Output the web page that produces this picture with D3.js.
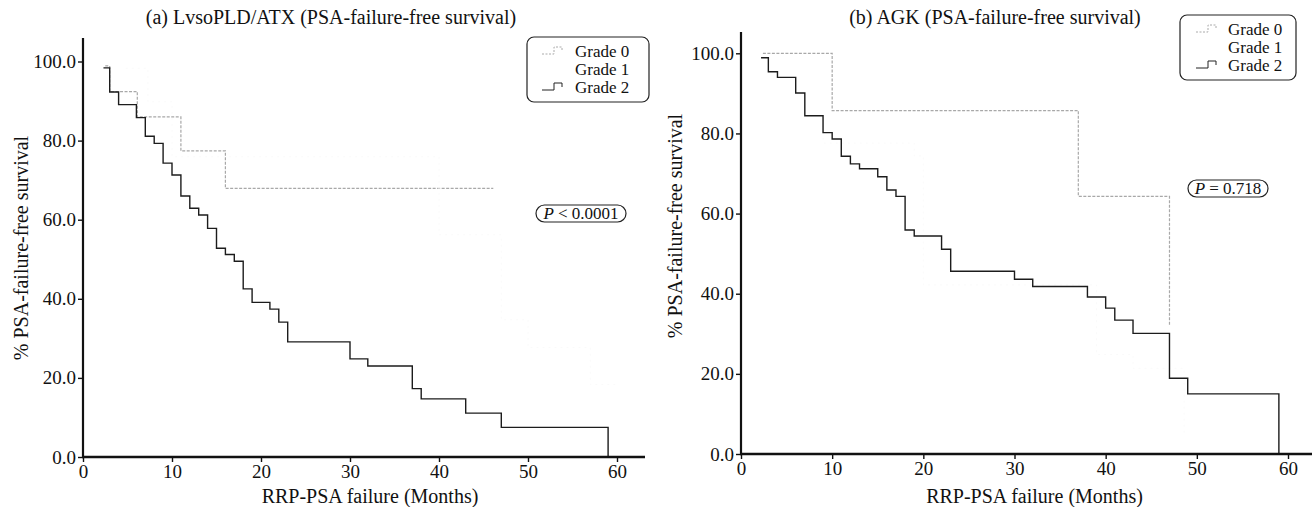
<!DOCTYPE html>
<html>
<head>
<meta charset="utf-8">
<script src="https://cdn.jsdelivr.net/npm/d3@7"></script>
<style>
  body { margin: 0; background: #fff; }
  svg { display: block; font-family: "Liberation Serif", "DejaVu Serif", serif; }
  svg text { font-family: "Liberation Serif", "DejaVu Serif", serif; }
</style>
</head>
<body>
<svg width="1312" height="507"></svg>
<script>
// tick values
let monthTicks = [0, 10, 20, 30, 40, 50, 60];
let pctTicks = [0, 20, 40, 60, 80, 100];
let gradeNames = ["Grade 0", "Grade 1", "Grade 2"];

// (a) LvsoPLD/ATX, step curves: time of each drop and survival after it
let aGrade0Time = [2.5, 3, 6.1, 11, 16, 46.1];
let aGrade0Surv = [98.9, 92.4, 86.0, 77.4, 67.9, 67.9];
let aGrade1Time = [4.8, 7.3, 10, 40, 47, 50, 57, 60];
let aGrade1Surv = [98.3, 89.8, 75.9, 56.2, 34.7, 27.7, 18.3, 18.3];
let aGrade2Time = [2.3, 3, 4, 6, 7, 8, 9, 10, 11, 12, 13, 14, 15, 16, 17, 18, 19, 21, 22, 23, 30, 32, 37, 38, 43, 47, 59];
let aGrade2Surv = [98.4, 92.3, 89.1, 85.8, 81.1, 79.3, 74.3, 71.3, 66.0, 62.9, 61.2, 57.8, 52.8, 51.2, 49.5, 42.5, 39.1, 37.4, 34.1, 29.1, 24.8, 23.0, 17.3, 14.7, 11.1, 7.5, 0];

// (b) AGK
let bGrade0Time = [2.4, 10, 37, 47];
let bGrade0Surv = [100, 85.7, 64.3, 32.1];
let bGrade1Time = [7.5, 9, 19, 20, 39, 43, 48.6];
let bGrade1Surv = [84.5, 77.6, 74.4, 42.2, 24.8, 21.4, 5.2];
let bGrade2Time = [2.2, 3, 4, 6, 7, 9, 10, 11, 12, 13, 15, 16, 17, 18, 19, 22, 23, 30, 32, 38, 40, 41, 43, 47, 49, 59];
let bGrade2Surv = [98.9, 95.4, 94.0, 90.1, 84.4, 80.2, 78.6, 74.3, 72.4, 71.2, 69.2, 65.9, 64.3, 55.9, 54.4, 51.1, 45.6, 43.6, 41.8, 39.2, 36.4, 33.4, 30.1, 18.9, 15.0, 0];

let svg = d3.select("svg");
let serif = '"Liberation Serif", "DejaVu Serif", serif';

let zip = (t, s) => t.map((d, i) => ({t: d, s: s[i]}));

// grade 1 is printed so faint it is almost invisible
let styles = [
  {stroke: "#a8a8a8", width: 1.2, dash: "3,1.5"},
  {stroke: "#fafafa", width: 1, dash: "2,4"},
  {stroke: "#1c1c1c", width: 1.4, dash: null}
];

function panel(cfg) {
  let x = d3.scaleLinear().domain([0, 60]).range(cfg.xr);
  let y = d3.scaleLinear().domain([0, 100]).range(cfg.yr);
  let g = svg.append("g");

  // curves
  let line = d3.line().x(d => x(d.t)).y(d => y(d.s)).curve(d3.curveStepAfter);
  cfg.series.forEach((s, i) => {
    g.append("path")
      .datum(s)
      .attr("d", line)
      .attr("fill", "none")
      .attr("stroke", styles[i].stroke)
      .attr("stroke-width", styles[i].width)
      .attr("stroke-dasharray", styles[i].dash);
  });

  // axes
  let ax = g.append("g")
    .attr("transform", `translate(0,${cfg.yr[0]})`)
    .call(d3.axisBottom(x).tickValues(monthTicks).tickSize(5).tickPadding(3).tickSizeOuter(0));
  ax.select(".domain").remove();
  ax.selectAll("text").style("font-family", serif).style("font-size", "19px").attr("fill", "#111");
  ax.selectAll("line").attr("stroke", "#111").attr("stroke-width", 1.4);

  let ay = g.append("g")
    .attr("transform", `translate(${cfg.xr[0]},0)`)
    .call(d3.axisLeft(y).tickValues(pctTicks).tickFormat(d3.format(".1f")).tickSize(5).tickPadding(2).tickSizeOuter(0));
  ay.select(".domain").remove();
  ay.selectAll("text").style("font-family", serif).style("font-size", "19px").attr("fill", "#111");
  ay.selectAll("line").attr("stroke", "#111").attr("stroke-width", 1.4);

  g.append("line")
    .attr("x1", cfg.xr[0] - 1).attr("x2", cfg.xEnd)
    .attr("y1", cfg.yr[0]).attr("y2", cfg.yr[0])
    .attr("stroke", "#111").attr("stroke-width", 2.4);
  g.append("line")
    .attr("x1", cfg.xr[0]).attr("x2", cfg.xr[0])
    .attr("y1", cfg.yTop).attr("y2", cfg.yr[0])
    .attr("stroke", "#111").attr("stroke-width", 2.2);

  // titles
  g.append("text").attr("x", cfg.titleX).attr("y", 24)
    .attr("text-anchor", "middle").attr("font-size", 20).attr("fill", "#111")
    .text(cfg.title);
  g.append("text").attr("x", (cfg.xr[0] + cfg.xr[1]) / 2 + 20).attr("y", 503)
    .attr("text-anchor", "middle").attr("font-size", 20).attr("fill", "#111")
    .text("RRP-PSA failure (Months)");
  g.append("text")
    .attr("transform", `translate(${cfg.yTitleX},${cfg.yTitleY}) rotate(-90)`)
    .attr("text-anchor", "middle").attr("font-size", 20).attr("fill", "#111")
    .text("% PSA-failure-free survival");

  // legend
  let L = cfg.legend;
  g.append("rect").attr("x", L.x).attr("y", L.y).attr("width", L.w).attr("height", L.h)
    .attr("rx", 7).attr("fill", "none").attr("stroke", "#222").attr("stroke-width", 1.2);
  gradeNames.forEach((name, i) => {
    let base = L.y + L.b0 + i * L.step;
    g.append("text").attr("x", L.tx).attr("y", base)
      .attr("font-size", 17).attr("fill", "#111").text(name);
    if (i !== 1) {
      g.append("path")
        .attr("d", `M${L.gx},${base - 3}h12v-7h8v4`)
        .attr("fill", "none")
        .attr("stroke", i === 0 ? "#aaa" : "#222")
        .attr("stroke-width", 1)
        .attr("stroke-dasharray", i === 0 ? "2,1.5" : null);
    }
  });

  // p-value badge
  let P = cfg.p;
  g.append("rect").attr("x", P.x).attr("y", P.y).attr("width", P.w).attr("height", 17)
    .attr("rx", 8.5).attr("fill", "none").attr("stroke", "#222").attr("stroke-width", 1.2);
  let pt = g.append("text").attr("x", P.x + P.w / 2).attr("y", P.y + 14)
    .attr("text-anchor", "middle").attr("font-size", 17).attr("fill", "#111");
  pt.append("tspan").attr("font-style", "italic").text("P");
  pt.append("tspan").text(P.rest);
}

panel({
  xr: [83, 617], yr: [457, 61.5], xEnd: 645, yTop: 38,
  title: "(a) LvsoPLD/ATX (PSA-failure-free survival)", titleX: 331,
  yTitleX: 28, yTitleY: 248,
  series: [zip(aGrade0Time, aGrade0Surv), zip(aGrade1Time, aGrade1Surv), zip(aGrade2Time, aGrade2Surv)],
  legend: {x: 527, y: 37, w: 122, h: 65, b0: 20, step: 18, tx: 575, gx: 542},
  p: {x: 536, y: 205, w: 90, rest: " < 0.0001"}
});

panel({
  xr: [741, 1288], yr: [454, 53.3], xEnd: 1312, yTop: 32,
  title: "(b) AGK (PSA-failure-free survival)", titleX: 995,
  yTitleX: 682, yTitleY: 226,
  series: [zip(bGrade0Time, bGrade0Surv), zip(bGrade1Time, bGrade1Surv), zip(bGrade2Time, bGrade2Surv)],
  legend: {x: 1180, y: 15, w: 116, h: 65, b0: 20, step: 18, tx: 1228, gx: 1196},
  p: {x: 1188, y: 180, w: 80, rest: " = 0.718"}
});
</script>
</body>
</html>
